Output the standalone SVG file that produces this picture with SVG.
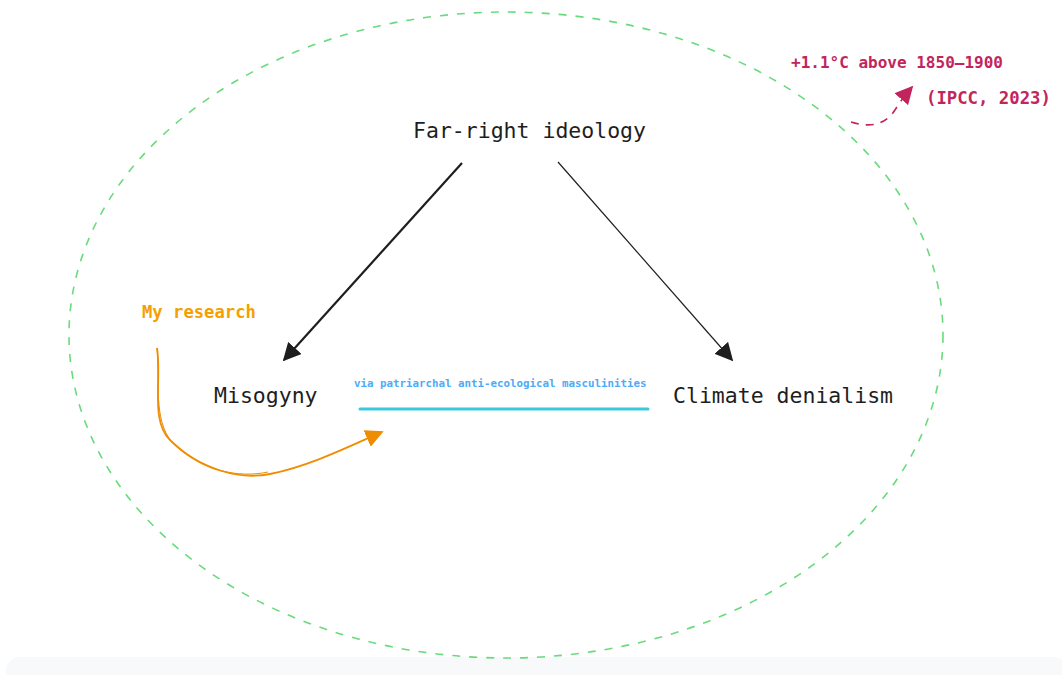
<svg xmlns="http://www.w3.org/2000/svg" width="1062" height="675" viewBox="0 0 1062 675">
<defs>
<style>
.mono{font-family:"DejaVu Sans Mono","Liberation Mono",monospace;}
.node{font-size:21.5px;fill:#1e1e1e;}
.dark{stroke:#1e1e1e;fill:none;}
.b{font-weight:bold;}
</style>
<marker id="ahDark" viewBox="0 0 10 10" refX="9" refY="5" markerWidth="18" markerHeight="18" markerUnits="userSpaceOnUse" orient="auto"><path d="M0,0 L10,5 L0,10 z" fill="#1e1e1e"/></marker>
<marker id="ahOrange" viewBox="0 0 10 10" refX="9" refY="5" markerWidth="18" markerHeight="18" markerUnits="userSpaceOnUse" orient="auto"><path d="M0,0 L10,5 L0,10 z" fill="#f08c00"/></marker>
<marker id="ahRed" viewBox="0 0 10 10" refX="9" refY="5" markerWidth="18" markerHeight="18" markerUnits="userSpaceOnUse" orient="auto"><path d="M0,0 L10,5 L0,10 z" fill="#c2255c"/></marker>
</defs>
<rect width="1062" height="675" fill="#ffffff"/>
<rect x="6" y="657" width="1062" height="30" rx="14" fill="#f8f9fa"/>
<g id="boundary">
<ellipse cx="506" cy="335" rx="437" ry="323" fill="none" stroke="#69db7c" stroke-width="1.6" stroke-dasharray="8 9"/>
</g>
<g id="connectors">
<path class="dark" d="M462,163 L284,360" stroke-width="2.2" marker-end="url(#ahDark)"/>
<path class="dark" d="M558,162 L732,360" stroke-width="1.2" marker-end="url(#ahDark)"/>
<path d="M157,348 C162,380 150,420 170,440 C200,470 240,480 270,474 C310,466 350,446 382,432" fill="none" stroke="#f08c00" stroke-width="1.8" marker-end="url(#ahOrange)"/>
<path d="M157,348 C160,380 153,420 172,442 C202,472 240,478 268,472" fill="none" stroke="#f08c00" stroke-width="1"/>
<path d="M851,122 C870,128 885,125 895,110 C900,102 905,95 912,87" fill="none" stroke="#c2255c" stroke-width="1.6" stroke-dasharray="8 7" marker-end="url(#ahRed)"/>
</g>
<g id="far-right">
<text class="mono node" x="413" y="138">Far-right ideology</text>
</g>
<g id="misogyny">
<text class="mono node" x="214" y="403">Misogyny</text>
</g>
<g id="climate-denialism">
<text class="mono node" x="673" y="403">Climate denialism</text>
</g>
<g id="my-research">
<text class="mono b" x="142" y="318" font-size="17.2" fill="#f59f00">My research</text>
</g>
<g id="via">
<text class="mono b" x="354" y="387" font-size="10.8" fill="#4dabf7">via patriarchal anti-ecological masculinities</text>
<line x1="360" y1="409" x2="648" y2="409" stroke="#3bc9db" stroke-width="3" stroke-linecap="round"/>
</g>
<g id="ipcc">
<text class="mono b" x="791" y="68" font-size="16" fill="#c2255c">+1.1°C above 1850–1900</text>
<text class="mono b" x="926" y="104" font-size="17.3" fill="#c2255c">(IPCC, 2023)</text>
</g>
</svg>
